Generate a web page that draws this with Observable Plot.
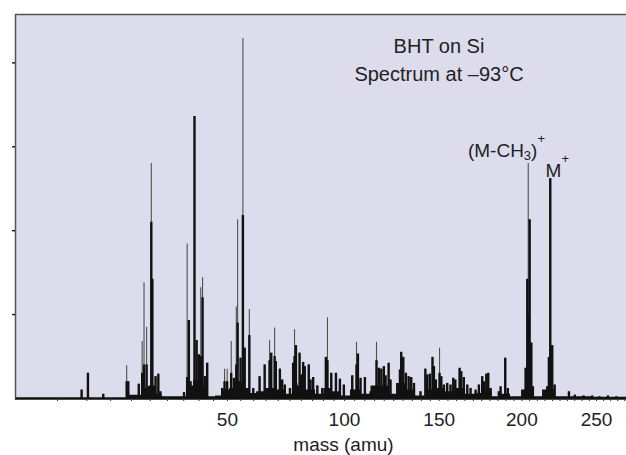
<!DOCTYPE html>
<html>
<head>
<meta charset="utf-8">
<script src="https://cdn.jsdelivr.net/npm/d3@7"></script>
<script src="https://cdn.jsdelivr.net/npm/@observablehq/plot@0.6"></script>
<style>
  html, body { margin: 0; padding: 0; background: #ffffff; }
  #chart { width: 626px; height: 455px; }
</style>
</head>
<body>
<div id="chart"></div>
<script>
// ---- data ----
const titleLine1 = "BHT on Si";
const titleLine2 = "Spectrum at –93°C";
const axisTitle = "mass (amu)";
const xTickLabels = [50, 100, 150, 200, 250];
const xMinorTicks = d3.range(5, 271, 5);
const yTicks = [1, 2, 3, 4];
const xDomain = [0.54, 271.3];
const yDomain = [0, 4.576];

// stick spectrum: mass, full height (thin top), black core height
const peakMass = [
  9.0, 10.2, 13.35, 18.8, 19.2, 21.9, 22.8, 23.3, 24.0, 24.6, 25.3, 25.6, 26.5, 27.3, 27.9,
  35.1, 36.1, 36.65, 37.2, 38.5, 39.2, 39.95, 40.6, 41.2, 42.0, 42.8,
  48.1, 48.95, 49.9, 51.4, 52.4, 53.3, 53.8, 54.9, 55.8, 56.5, 58.3, 59.85,
  62.35, 64.4, 66.4, 67.1, 68.5, 69.0, 70.7, 71.7, 72.8, 75.0, 76.4, 77.0, 77.6,
  79.2, 79.9, 80.8, 81.5, 83.3, 84.1, 85.3, 87.2, 89.5, 91.15, 91.9, 93.7, 95.9, 97.8, 99.7,
  103.8, 105.9, 106.6, 107.9, 110.1, 113.0, 116.0, 117.2, 118.5, 119.8, 120.7, 122.3, 123.3,
  128.3, 129.0, 130.1, 131.5, 133.0, 134.4, 135.9, 139.5, 142.2, 143.3, 144.7, 146.2, 147.0, 148.1,
  150.2, 151.2, 152.7, 154.6, 156.5, 158.1, 159.3, 161.8, 162.8, 164.3, 166.35, 168.3,
  171.3, 173.3, 175.3, 176.3, 177.8, 179.0, 180.4, 185.5, 186.6, 189.5, 191.1,
  202.4, 203.5, 204.1, 205.0, 206.1, 207.1, 216.5, 217.6, 218.5, 219.8, 221.4,
  231.0, 235, 241, 247, 252, 258, 264
];
const peakHeight = [
  0.10, 0.30, 0.05, 0.39, 0.20, 0.17, 0.68, 1.38, 0.85, 0.14, 2.80, 1.42, 0.26, 0.29, 0.08,
  0.07, 1.84, 0.93, 0.20, 3.36, 0.69, 0.52, 1.32, 1.44, 0.26, 0.42,
  0.12, 0.35, 0.35, 0.68, 0.24, 1.09, 2.13, 0.48, 4.29, 0.60, 1.06, 0.12,
  0.26, 0.40, 0.69, 0.54, 0.84, 0.44, 0.35, 0.22, 0.16, 0.12, 0.42, 0.82, 0.63,
  0.54, 0.28, 0.43, 0.38, 0.40, 0.22, 0.25, 0.15, 0.12, 0.49, 0.96, 0.30, 0.30, 0.23, 0.16,
  0.27, 0.67, 0.53, 0.24, 0.25, 0.08, 0.67, 0.36, 0.35, 0.38, 0.27, 0.42, 0.22,
  0.34, 0.55, 0.49, 0.30, 0.26, 0.25, 0.18, 0.08, 0.35, 0.28, 0.29, 0.49, 0.38, 0.22,
  0.60, 0.26, 0.16, 0.18, 0.16, 0.24, 0.22, 0.36, 0.32, 0.25, 0.16, 0.12,
  0.10, 0.16, 0.26, 0.20, 0.29, 0.30, 0.12, 0.08, 0.14, 0.48, 0.12,
  0.36, 1.42, 2.80, 2.13, 0.66, 0.14, 0.14, 0.49, 2.62, 0.63, 0.16,
  0.08, 0.04, 0.03, 0.03, 0.02, 0.03, 0.02
];
const peakCore = [
  0.10, 0.30, 0.05, 0.20, 0.20, 0.17, 0.30, 0.40, 0.40, 0.14, 2.10, 1.42, 0.26, 0.29, 0.08,
  0.07, 0.25, 0.93, 0.20, 3.36, 0.69, 0.52, 0.50, 1.20, 0.26, 0.42,
  0.12, 0.20, 0.20, 0.30, 0.24, 0.40, 0.90, 0.48, 2.18, 0.60, 0.75, 0.12,
  0.26, 0.40, 0.45, 0.54, 0.50, 0.44, 0.35, 0.22, 0.16, 0.12, 0.42, 0.50, 0.63,
  0.54, 0.28, 0.43, 0.38, 0.40, 0.22, 0.25, 0.15, 0.12, 0.49, 0.45, 0.30, 0.30, 0.23, 0.16,
  0.27, 0.40, 0.53, 0.24, 0.25, 0.08, 0.45, 0.36, 0.35, 0.38, 0.27, 0.42, 0.22,
  0.34, 0.55, 0.49, 0.30, 0.26, 0.25, 0.18, 0.08, 0.35, 0.28, 0.29, 0.49, 0.38, 0.22,
  0.30, 0.26, 0.16, 0.18, 0.16, 0.24, 0.22, 0.36, 0.32, 0.25, 0.16, 0.12,
  0.10, 0.16, 0.26, 0.20, 0.29, 0.30, 0.12, 0.08, 0.14, 0.48, 0.12,
  0.36, 1.42, 1.00, 2.13, 0.66, 0.14, 0.14, 0.49, 2.62, 0.63, 0.16,
  0.08, 0.04, 0.03, 0.03, 0.02, 0.03, 0.02
];

// dense unresolved "grass" along the baseline
const grassMass = [
  17.3, 21.8, 23.7, 25.7, 27.4, 29.4, 35.6, 37.2, 39.2, 42.2, 44.0, 47.5, 49.7, 51.9, 54.2,
  57.2, 59.6, 62.8, 66.8, 71.0, 75.3, 77.4, 79.6, 84.1, 88.7, 91.9, 95.7, 100.5, 105.4,
  110.4, 116.0, 120.7, 124.4, 128.6, 134.1, 139.5, 145.1, 150.8, 156.5, 162.4, 168.3,
  174.3, 179.2, 183.5, 189.7, 196.0, 203.7, 208.9, 218.0, 225.3, 271.3
];
const grassLevel = [
  0.00, 0.04, 0.12, 0.15, 0.05, 0.02, 0.02, 0.15, 0.22, 0.15, 0.02, 0.03, 0.10, 0.12, 0.20,
  0.12, 0.06, 0.08, 0.12, 0.10, 0.05, 0.18, 0.15, 0.10, 0.05, 0.12, 0.08, 0.03, 0.10,
  0.05, 0.15, 0.15, 0.05, 0.18, 0.10, 0.03, 0.10, 0.12, 0.08, 0.12, 0.05,
  0.06, 0.10, 0.02, 0.05, 0.02, 0.10, 0.02, 0.10, 0.02, 0.015
];

// peak annotations
const annotLabel = ["(M-CH3)+", "M+"];
const annotMass = [204.1, 218.5];
const annotHeight = [2.80, 2.62];

// ---- build tables ----
const peaks = peakMass.map((m, i) => ({m, h: peakHeight[i], c: peakCore[i]}));
const grass = grassMass.map((m, i) => ({m, v: grassLevel[i]}));
const annots = annotLabel.map((t, i) => ({t, m: annotMass[i], v: annotHeight[i]}));

const font = "'Liberation Sans', Arial, Helvetica, sans-serif";
const ink = "#222";

const chart = Plot.plot({
  width: 626,
  height: 455,
  marginTop: 14,
  marginBottom: 57,
  marginLeft: 15,
  marginRight: 0,
  style: {fontFamily: font, fontSize: "19px", background: "#ffffff", color: ink},
  x: {type: "pow", exponent: 0.6, domain: xDomain},
  y: {domain: yDomain},
  marks: [
    Plot.frame({fill: "#dcdcec", stroke: "none"}),
    Plot.areaY(grass, {x: "m", y: "v", fill: "#111", curve: "step"}),
    Plot.ruleX(peaks, {x: "m", y1: 0, y2: "h", stroke: "#505050", strokeWidth: 1.1}),
    Plot.ruleX(peaks, {x: "m", y1: 0, y2: "c", stroke: "#111", strokeWidth: 2.4}),
    Plot.ruleY([yDomain[0]], {stroke: "#111", strokeWidth: 2.5}),
    Plot.ruleY([yDomain[1]], {stroke: "#555", strokeWidth: 1.5}),
    Plot.ruleX([xDomain[0]], {stroke: "#555", strokeWidth: 1.5}),
    Plot.axisY({ticks: yTicks, tickSize: 3, stroke: "#222", strokeWidth: 1.5, fill: "none", label: null}),
    Plot.axisX({ticks: xMinorTicks, tickSize: 3, stroke: "#333", fill: "none", label: null}),
    Plot.axisX({ticks: xTickLabels, tickSize: 0, tickPadding: 14, fontSize: 19, fill: ink, label: null, tickFormat: d => String(d)}),
    Plot.text([axisTitle], {text: d => d, frameAnchor: "bottom", dx: 22.5, dy: 46, lineAnchor: "middle", fontSize: 19, fill: ink}),
    Plot.text([titleLine1], {text: d => d, frameAnchor: "top", dx: 118, dy: 38.3, lineAnchor: "bottom", fontSize: 20, fill: ink}),
    Plot.text([titleLine2], {text: d => d, frameAnchor: "top", dx: 118, dy: 66.7, lineAnchor: "bottom", fontSize: 20, fill: ink}),
    Plot.text(annots.slice(0, 1), {x: "m", y: "v", text: "t", textAnchor: "end", lineAnchor: "bottom", dx: 16.8, dy: -6.6, fontSize: 19, fill: ink}),
    Plot.text(annots.slice(1), {x: "m", y: "v", text: "t", textAnchor: "start", lineAnchor: "bottom", dx: -4.7, dy: -1.6, fontSize: 19, fill: ink})
  ]
});

// typeset sub/superscripts in the peak labels
const NS = "http://www.w3.org/2000/svg";
function span(txt, attrs) {
  const s = document.createElementNS(NS, "tspan");
  for (const k in attrs) s.setAttribute(k, attrs[k]);
  s.textContent = txt;
  return s;
}
chart.querySelectorAll("text").forEach(t => {
  if (t.textContent === "(M-CH3)+") {
    t.textContent = "";
    t.appendChild(span("(M-CH", {}));
    t.appendChild(span("3", {"font-size": "13", dy: "3"}));
    t.appendChild(span(")", {dy: "-3"}));
    t.appendChild(span("+", {"font-size": "13", dy: "-14"}));
  } else if (t.textContent === "M+") {
    t.textContent = "";
    t.appendChild(span("M", {}));
    t.appendChild(span("+", {"font-size": "13", dy: "-14"}));
  }
});

document.getElementById("chart").appendChild(chart);
</script>
</body>
</html>
